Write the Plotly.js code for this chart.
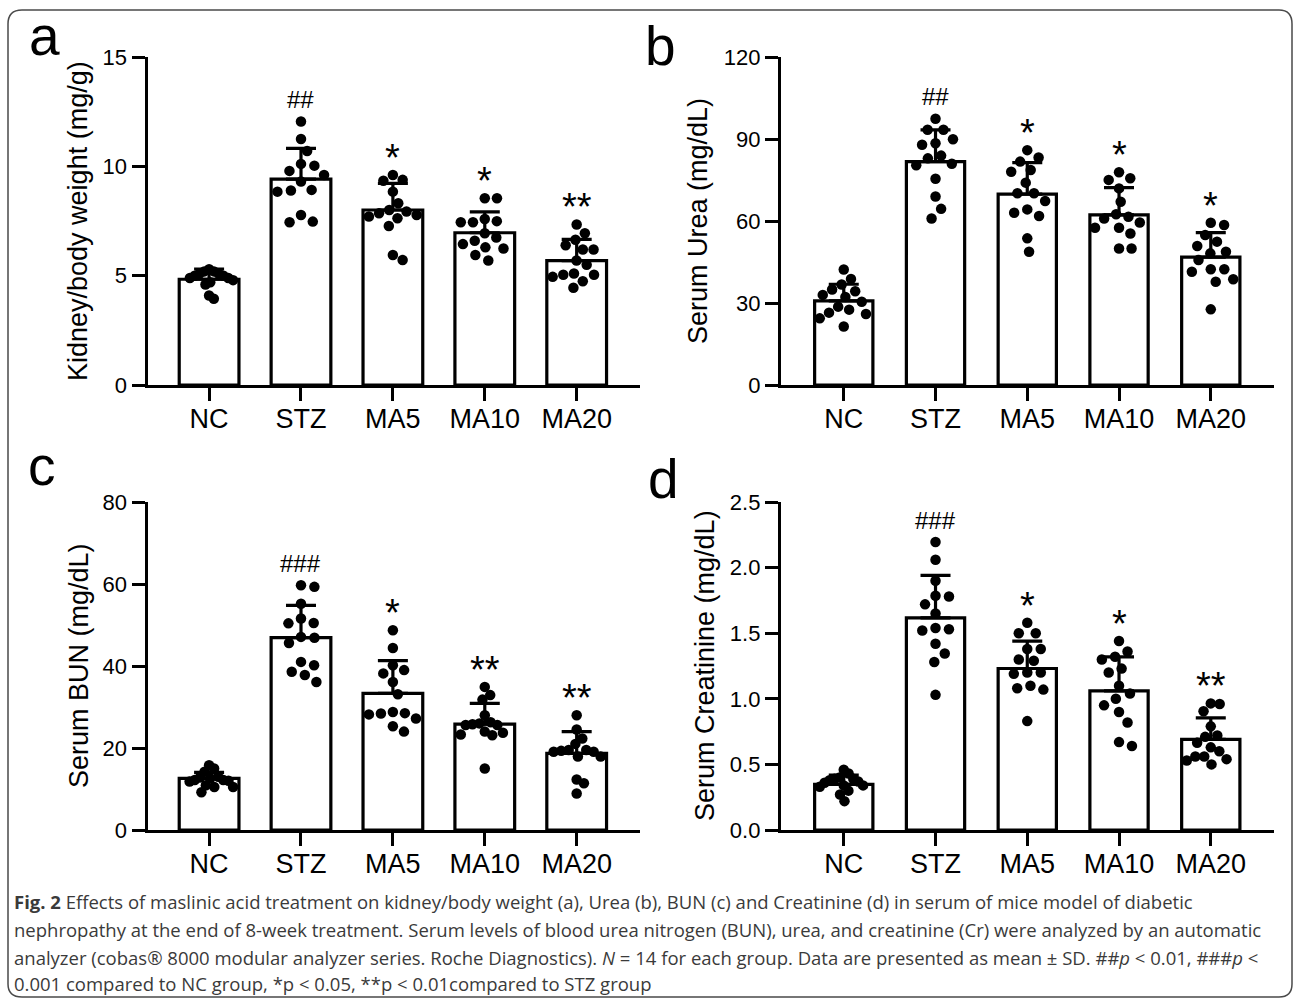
<!DOCTYPE html>
<html>
<head>
<meta charset="utf-8">
<script src="https://cdn.plot.ly/plotly-3.0.1.min.js"></script>
<style>html,body{margin:0;padding:0;background:#fff;}#chart{width:1293px;height:998px;}</style>
</head>
<body>
<div id="chart"></div>
<script>
// ---------------- DATA ----------------
const categories = ['NC', 'STZ', 'MA5', 'MA10', 'MA20'];

// (a) Kidney/body weight (mg/g)
const kbwMean = [4.84, 9.42, 8.01, 6.97, 5.69];
const kbwSD   = [0.47, 1.41, 1.22, 0.95, 0.98];
const kbwNC   = [5.3, 5.2, 5.2, 5.1, 5.1, 5.0, 5.0, 4.9, 4.9, 4.8, 4.7, 4.6, 4.1, 3.95];
const kbwSTZ  = [12.06, 11.26, 10.71, 10.12, 10.04, 9.80, 9.61, 9.31, 8.93, 8.90, 8.85, 7.78, 7.48, 7.45];
const kbwMA5  = [9.61, 9.39, 9.35, 8.85, 8.32, 8.01, 7.94, 7.86, 7.78, 7.71, 7.63, 7.28, 5.95, 5.72];
const kbwMA10 = [8.55, 8.55, 7.6, 7.5, 7.45, 7.45, 6.95, 6.75, 6.6, 6.45, 6.3, 6.25, 5.95, 5.7];
const kbwMA20 = [7.35, 6.95, 6.65, 6.4, 6.2, 6.2, 5.7, 5.5, 5.1, 5.05, 5.05, 4.95, 4.75, 4.45];
const kbwSig  = ['', '##', '*', '*', '**'];

// (b) Serum Urea (mg/dL)
const ureaMean = [30.8, 81.8, 69.9, 62.3, 46.8];
const ureaSD   = [6.1, 11.6, 11.5, 10.0, 9.0];
const ureaNC   = [42.3, 38.8, 36.8, 35.0, 34.3, 33.0, 32.2, 30.5, 28.7, 27.6, 26.5, 26.0, 24.4, 21.4];
const ureaSTZ  = [97.5, 93.5, 93.5, 90.0, 88.5, 88.0, 84.0, 83.0, 81.0, 80.5, 75.5, 69.0, 64.5, 61.0];
const ureaMA5  = [86.0, 83.3, 81.8, 78.7, 78.1, 74.1, 70.2, 70.2, 67.4, 64.3, 63.1, 61.9, 53.7, 48.8];
const ureaMA10 = [77.9, 75.7, 75.1, 72.0, 67.1, 62.5, 61.6, 61.0, 59.5, 57.6, 57.6, 55.5, 50.0, 50.0];
const ureaMA20 = [59.4, 58.6, 54.9, 52.5, 50.9, 48.8, 48.2, 45.8, 42.4, 42.4, 41.5, 38.7, 37.8, 27.7];
const ureaSig  = ['', '##', '*', '*', '*'];

// (c) Serum BUN (mg/dL)
const bunMean = [12.6, 46.9, 33.3, 25.8, 18.7];
const bunSD   = [1.45, 7.9, 8.0, 5.1, 5.3];
const bunNC   = [15.8, 15.0, 14.2, 13.0, 12.8, 12.6, 12.2, 12.2, 12.0, 11.8, 10.9, 10.5, 10.5, 9.2];
const bunSTZ  = [59.7, 59.3, 55.2, 51.6, 50.5, 50.4, 47.1, 46.9, 45.6, 41.0, 40.2, 38.6, 37.8, 36.1];
const bunMA5  = [48.7, 44.4, 40.2, 39.0, 38.2, 36.1, 33.1, 28.8, 28.5, 28.4, 28.2, 27.2, 25.3, 24.0];
const bunMA10 = [34.9, 32.9, 31.8, 28.0, 26.3, 26.0, 25.8, 25.6, 25.6, 24.0, 23.7, 23.3, 23.1, 15.0];
const bunMA20 = [28.0, 24.5, 22.3, 21.0, 19.5, 19.5, 19.3, 19.1, 19.1, 17.9, 17.9, 12.3, 11.4, 8.9];
const bunSig  = ['', '###', '*', '**', '**'];

// (d) Serum Creatinine (mg/dL)
const crMean = [0.348, 1.617, 1.231, 1.061, 0.690];
const crSD   = [0.071, 0.323, 0.209, 0.259, 0.165];
const crNC   = [0.46, 0.43, 0.40, 0.39, 0.39, 0.38, 0.37, 0.36, 0.34, 0.34, 0.33, 0.30, 0.27, 0.22];
const crSTZ  = [2.195, 2.06, 1.90, 1.785, 1.78, 1.72, 1.65, 1.54, 1.53, 1.52, 1.42, 1.345, 1.28, 1.03];
const crMA5  = [1.58, 1.50, 1.50, 1.38, 1.38, 1.30, 1.29, 1.20, 1.20, 1.19, 1.10, 1.08, 1.07, 0.83];
const crMA10 = [1.44, 1.36, 1.32, 1.30, 1.23, 1.20, 1.10, 1.04, 1.00, 0.95, 0.90, 0.82, 0.67, 0.64];
const crMA20 = [0.965, 0.96, 0.905, 0.79, 0.72, 0.71, 0.665, 0.63, 0.60, 0.56, 0.56, 0.54, 0.53, 0.50];
const crSig  = ['', '###', '*', '*', '**'];

const yTitles = ['Kidney/body weight (mg/g)', 'Serum Urea (mg/dL)', 'Serum BUN (mg/dL)', 'Serum Creatinine (mg/dL)'];
const panelLetters = ['a', 'b', 'c', 'd'];
const captionLines = [
  '<b>Fig. 2</b> Effects of maslinic acid treatment on kidney/body weight (a), Urea (b), BUN (c) and Creatinine (d) in serum of mice model of diabetic',
  'nephropathy at the end of 8-week treatment. Serum levels of blood urea nitrogen (BUN), urea, and creatinine (Cr) were analyzed by an automatic',
  'analyzer (cobas® 8000 modular analyzer series. Roche Diagnostics). <i>N</i> = 14 for each group. Data are presented as mean ± SD. ##<i>p</i> &lt; 0.01, ###<i>p</i> &lt;',
  '0.001 compared to NC group, *p &lt; 0.05, **p &lt; 0.01compared to STZ group'
];

// ---------------- LAYOUT HELPERS ----------------
const W = 1293, H = 998;
const FONT = 'Liberation Sans, Arial, Helvetica, sans-serif';
const CAPFONT = 'Open Sans, Liberation Sans, sans-serif';
const fx = p => p / W;
const fy = p => 1 - p / H;

const panels = [
  {pts:[kbwNC,kbwSTZ,kbwMA5,kbwMA10,kbwMA20], mean:kbwMean, sd:kbwSD, sig:kbwSig, ymax:15, dtick:5, fmt:'d',
   L:147.7, R:640, T:57.3, B:385, xr:[-0.668,4.689], bw:0.65, tx:78, ty:221, lx:27, ly:36},
  {pts:[ureaNC,ureaSTZ,ureaMA5,ureaMA10,ureaMA20], mean:ureaMean, sd:ureaSD, sig:ureaSig, ymax:120, dtick:30, fmt:'d',
   L:781, R:1274, T:57.3, B:385, xr:[-0.684,4.689], bw:0.635, tx:698, ty:221, lx:643, ly:46},
  {pts:[bunNC,bunSTZ,bunMA5,bunMA10,bunMA20], mean:bunMean, sd:bunSD, sig:bunSig, ymax:80, dtick:20, fmt:'d',
   L:147.7, R:640, T:502, B:830, xr:[-0.668,4.689], bw:0.65, tx:79, ty:666, lx:26, ly:466},
  {pts:[crNC,crSTZ,crMA5,crMA10,crMA20], mean:crMean, sd:crSD, sig:crSig, ymax:2.5, dtick:0.5, fmt:'.1f',
   L:781, R:1274, T:502, B:830, xr:[-0.684,4.689], bw:0.635, tx:705, ty:666, lx:646, ly:479}
];

// simple beeswarm in pixel space (layout only), compressed to fit the bar
function swarm(vals, pxPerY, diam, maxOff) {
  const order = vals.map((v, i) => i).sort((a, b) => vals[b] - vals[a]);
  const placed = [];
  const off = new Array(vals.length).fill(0);
  for (const i of order) {
    const y = vals[i] * pxPerY;
    const cands = [0];
    for (const p of placed) {
      const dy = Math.abs(p.y - y);
      if (dy < diam) {
        const dx = Math.sqrt(diam * diam - dy * dy);
        cands.push(p.x + dx, p.x - dx);
      }
    }
    cands.sort((a, b) => Math.abs(a) - Math.abs(b));
    let chosen = 0;
    for (const c of cands) {
      if (placed.every(p => (p.x - c) ** 2 + (p.y - y) ** 2 >= diam * diam - 0.01)) { chosen = c; break; }
    }
    placed.push({x: chosen, y: y});
    off[i] = chosen;
  }
  const m = Math.max(...off.map(Math.abs));
  const s = m > maxOff ? maxOff / m : 1;
  return off.map(o => o * s);
}

const traces = [];
const layout = {
  width: W, height: H,
  margin: {l: 0, r: 0, t: 0, b: 0},
  paper_bgcolor: '#fff', plot_bgcolor: 'rgba(0,0,0,0)',
  showlegend: false,
  font: {family: FONT, color: '#000'},
  annotations: [],
  shapes: [{
    type: 'path', xref: 'paper', yref: 'paper',
    path: 'M ' + fx(8) + ',' + fy(984) + ' L ' + fx(8) + ',' + fy(24) +
          ' Q ' + fx(8) + ',' + fy(10) + ' ' + fx(22) + ',' + fy(10) +
          ' L ' + fx(1279) + ',' + fy(10) + ' Q ' + fx(1292) + ',' + fy(10) + ' ' + fx(1292) + ',' + fy(24) +
          ' L ' + fx(1292) + ',' + fy(984) + ' Q ' + fx(1292) + ',' + fy(997) + ' ' + fx(1279) + ',' + fy(997) +
          ' L ' + fx(22) + ',' + fy(997) + ' Q ' + fx(8) + ',' + fy(997) + ' ' + fx(8) + ',' + fy(984) + ' Z',
    line: {color: '#4a4a4a', width: 1.5}, fillcolor: 'rgba(0,0,0,0)', layer: 'below'
  }]
};

panels.forEach((p, k) => {
  const n = k + 1;
  const xa = n === 1 ? 'x' : 'x' + n;
  const ya = n === 1 ? 'y' : 'y' + n;
  const pxPerX = (p.R - p.L) / (p.xr[1] - p.xr[0]);
  const pxPerY = (p.B - p.T) / p.ymax;

  traces.push({
    type: 'bar', x: [0, 1, 2, 3, 4], y: p.mean, width: p.bw,
    xaxis: xa, yaxis: ya,
    marker: {color: '#fff', line: {color: '#000', width: 3.2}},
    error_y: {type: 'data', symmetric: false, array: p.sd, arrayminus: p.sd.map(() => 0),
              color: '#000', thickness: 3.2, width: 15},
    hoverinfo: 'skip'
  });

  const xs = [], ys = [];
  p.pts.forEach((vals, gi) => {
    const off = swarm(vals, pxPerY, 13.5, 24);
    vals.forEach((v, j) => { xs.push(gi + off[j] / pxPerX); ys.push(v); });
  });
  traces.push({
    type: 'scatter', mode: 'markers', x: xs, y: ys, xaxis: xa, yaxis: ya,
    marker: {color: '#000', size: 10.5, line: {width: 0}}, hoverinfo: 'skip', cliponaxis: false
  });

  const tv = [];
  for (let v = 0; v <= p.ymax + 1e-9; v += p.dtick) tv.push(+v.toFixed(3));

  layout['xaxis' + (n === 1 ? '' : n)] = {
    domain: [fx(p.L), fx(p.R)], range: p.xr, anchor: ya,
    tickvals: [0, 1, 2, 3, 4], ticktext: categories,
    showline: true, linecolor: '#000', linewidth: 3.2,
    ticks: 'outside', ticklen: 13, tickwidth: 3, tickcolor: '#000',
    ticklabelstandoff: -6,
    tickfont: {family: FONT, size: 27, color: '#000'},
    showgrid: false, zeroline: false, fixedrange: true
  };
  layout['yaxis' + (n === 1 ? '' : n)] = {
    domain: [fy(p.B), fy(p.T)], range: [0, p.ymax], anchor: xa,
    tickvals: tv, tickformat: p.fmt,
    showline: true, linecolor: '#000', linewidth: 3.2,
    ticks: 'outside', ticklen: 13, tickwidth: 3, tickcolor: '#000',
    tickfont: {family: FONT, size: 22, color: '#000'},
    showgrid: false, zeroline: false, fixedrange: true
  };

  // axis title
  layout.annotations.push({
    xref: 'paper', yref: 'paper', x: fx(p.tx), y: fy(p.ty), xanchor: 'center', yanchor: 'middle',
    text: yTitles[k], textangle: -90, showarrow: false, font: {family: FONT, size: 27, color: '#000'}
  });
  // panel letter
  layout.annotations.push({
    xref: 'paper', yref: 'paper', x: fx(p.lx), y: fy(p.ly), xanchor: 'left', yanchor: 'middle',
    text: panelLetters[k], showarrow: false, font: {family: FONT, size: 55, color: '#000'}
  });
  // significance marks
  p.sig.forEach((s, gi) => {
    if (!s) return;
    const top = Math.max(...p.pts[gi]);
    const isStar = s.indexOf('*') >= 0;
    layout.annotations.push({
      xref: xa, yref: ya, x: gi, y: top, xanchor: 'center', yanchor: 'middle',
      yshift: isStar ? 17 : 22,
      text: s, showarrow: false,
      font: {family: FONT, size: isStar ? 38 : 24, color: '#000'}
    });
  });
});

// caption
const capY = [901, 929, 957, 983];
captionLines.forEach((t, i) => {
  layout.annotations.push({
    xref: 'paper', yref: 'paper', x: fx(12), y: fy(capY[i]), xanchor: 'left', yanchor: 'middle',
    text: t, showarrow: false, align: 'left',
    font: {family: CAPFONT, size: 18.5, color: '#3a3a3a'}
  });
});

Plotly.newPlot('chart', traces, layout, {staticPlot: true, displayModeBar: false});
</script>
</body>
</html>
